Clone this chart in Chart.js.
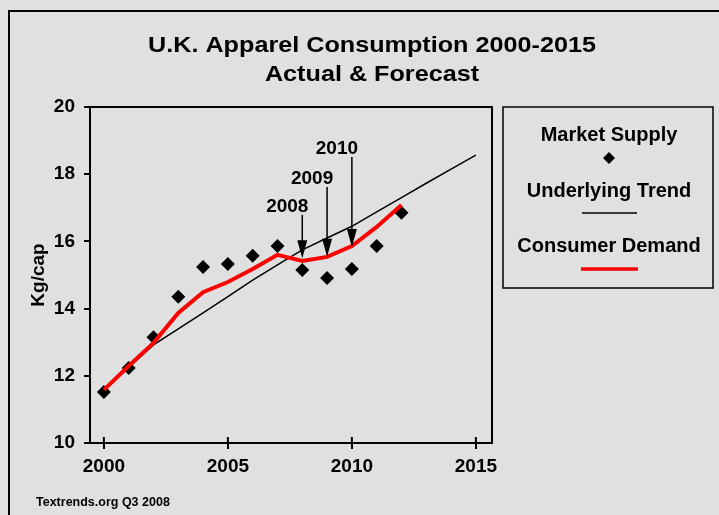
<!DOCTYPE html>
<html>
<head>
<meta charset="utf-8">
<script src="https://cdn.jsdelivr.net/npm/chart.js@4/dist/chart.umd.min.js"></script>
<style>
body{margin:0;background:#e0e0e0;}
canvas{display:block;}
</style>
</head>
<body>
<canvas id="chart" width="719" height="515"></canvas>
<script>
// =========================
// DATA
// =========================

let years=[2000,2001,2002,2003,2004,2005,2006,2007,2008,2009,2010,2011,2012]

// market supply (diamonds)
let supply=[11.52,12.23,13.15,14.35,15.24,15.33,15.57,15.86,15.15,14.91,15.18,15.86,16.85]

// consumer demand (red line)
let demand=[11.58,12.29,12.98,13.87,14.49,14.79,15.18,15.6,15.42,15.54,15.86,16.43,17.08]

// underlying trend (black line)
let trendYears=[2000,2001,2002,2003,2004,2005,2006,2007,2008,2009,2010,2011,2012,2013,2014,2015]
let trend=[11.58,12.25,12.92,13.4,13.87,14.36,14.85,15.3,15.75,16.1,16.45,16.88,17.3,17.73,18.15,18.57]

let xTicks=[2000,2005,2010,2015]
let yTicks=[10,12,14,16,18,20]

// arrows pointing at 2008-2010
let arrowYears=[2008,2009,2010]
let arrowTop=[16.79,17.62,18.51]
let arrowTip=[15.5,15.54,15.83]

let titleLines=["U.K. Apparel Consumption 2000-2015","Actual & Forecast"]
let legendLabels=["Market Supply","Underlying Trend","Consumer Demand"]
let footnote="Textrends.org Q3 2008"

const FONT="'Liberation Sans', Arial, sans-serif"

function pts(xs,ys){
return xs.map((x,i)=>({x:x,y:ys[i]}))
}

function stretchText(ctx,text,x,y,size,sx){
ctx.save()
ctx.font="bold "+size+"px "+FONT
ctx.fillStyle="#000"
ctx.textAlign="center"
ctx.textBaseline="alphabetic"
ctx.translate(x,y)
ctx.scale(sx,1)
ctx.fillText(text,0,0)
ctx.restore()
}

// =========================
// EXTRAS: background, frame, title, legend, arrows
// =========================

let extras={
id:"extras",
beforeDraw(chart){
let ctx=chart.ctx
ctx.save()
ctx.fillStyle="#e0e0e0"
ctx.fillRect(0,0,chart.width,chart.height)
ctx.strokeStyle="#000"
ctx.lineWidth=2
ctx.strokeRect(9,11,800,600)
ctx.restore()
},
afterDraw(chart){
let ctx=chart.ctx
let a=chart.chartArea
let xs=chart.scales.x
let ys=chart.scales.y

// plot frame
ctx.save()
ctx.strokeStyle="#000"
ctx.lineWidth=2
ctx.strokeRect(a.left,a.top,a.right-a.left,a.bottom-a.top)

// x ticks crossing into plot
ctx.lineWidth=2
xTicks.forEach(v=>{
let px=xs.getPixelForValue(v)
ctx.beginPath()
ctx.moveTo(px,a.bottom-6)
ctx.lineTo(px,a.bottom)
ctx.stroke()
})

// arrows
ctx.lineWidth=1.5
arrowYears.forEach((yr,i)=>{
let px=xs.getPixelForValue(yr)
let y0=ys.getPixelForValue(arrowTop[i])
let y1=ys.getPixelForValue(arrowTip[i])
ctx.beginPath()
ctx.moveTo(px,y0)
ctx.lineTo(px,y1-16)
ctx.stroke()
ctx.beginPath()
ctx.moveTo(px,y1)
ctx.lineTo(px-5,y1-18)
ctx.lineTo(px+5,y1-18)
ctx.closePath()
ctx.fillStyle="#000"
ctx.fill()
stretchText(ctx,String(yr),px-15,y0-3,19,1)
})

// title
stretchText(ctx,titleLines[0],372,52,22,1.145)
stretchText(ctx,titleLines[1],372,81,22,1.145)

// legend box
ctx.lineWidth=1.5
ctx.strokeStyle="#000"
ctx.strokeRect(503,107,210,181)
let cx=609
stretchText(ctx,legendLabels[0],cx,141,20,1)
ctx.beginPath()
ctx.moveTo(cx,152)
ctx.lineTo(cx+6,158)
ctx.lineTo(cx,164)
ctx.lineTo(cx-6,158)
ctx.closePath()
ctx.fillStyle="#000"
ctx.fill()
stretchText(ctx,legendLabels[1],cx,197,20,1)
ctx.lineWidth=1.5
ctx.beginPath()
ctx.moveTo(582,213)
ctx.lineTo(637,213)
ctx.stroke()
stretchText(ctx,legendLabels[2],cx,252,20,1)
ctx.strokeStyle="#ff0000"
ctx.lineWidth=3.5
ctx.beginPath()
ctx.moveTo(581,269)
ctx.lineTo(638,269)
ctx.stroke()

// footnote
ctx.font="bold 12.5px "+FONT
ctx.fillStyle="#000"
ctx.textAlign="left"
ctx.textBaseline="middle"
ctx.fillText(footnote,36,503)
ctx.restore()
}
}

// =========================
// CHART
// =========================

new Chart(document.getElementById("chart"),{

type:"line",

data:{
datasets:[
{
label:legendLabels[2],
data:pts(years,demand),
borderColor:"#ff0000",
borderWidth:4,
pointRadius:0,
tension:0,
order:0
},
{
label:legendLabels[1],
data:pts(trendYears,trend),
borderColor:"#000000",
borderWidth:1.5,
pointRadius:0,
tension:0,
order:1
},
{
label:legendLabels[0],
data:pts(years,supply),
showLine:false,
pointStyle:"rectRot",
pointRadius:7,
pointBackgroundColor:"#000",
pointBorderColor:"#000",
pointBorderWidth:0,
order:2
}
]
},

plugins:[extras],

options:{
responsive:false,
animation:false,
devicePixelRatio:1,
layout:{padding:{left:0,top:107,right:227,bottom:32}},
plugins:{legend:{display:false},title:{display:false},tooltip:{enabled:false}},
scales:{
x:{
type:"linear",
min:1999.44,
max:2015.65,
afterBuildTicks:s=>{s.ticks=xTicks.map(v=>({value:v}))},
afterFit:s=>{s.height=40},
grid:{drawOnChartArea:false,tickLength:6,color:"#000",lineWidth:2},
border:{color:"#000",width:2},
ticks:{color:"#000",padding:6,font:{family:FONT,size:19,weight:"bold"},callback:v=>String(v)}
},
y:{
min:10,
max:20,
afterBuildTicks:s=>{s.ticks=yTicks.map(v=>({value:v}))},
afterFit:s=>{s.width=90},
grid:{drawOnChartArea:false,tickLength:6,color:"#000",lineWidth:2},
border:{color:"#000",width:2},
ticks:{color:"#000",padding:9,font:{family:FONT,size:19,weight:"bold"}},
title:{display:true,text:"Kg/cap",color:"#000",font:{family:FONT,size:19,weight:"bold"},padding:{top:27,bottom:0}}
}
}
}

})
</script>
</body>
</html>
